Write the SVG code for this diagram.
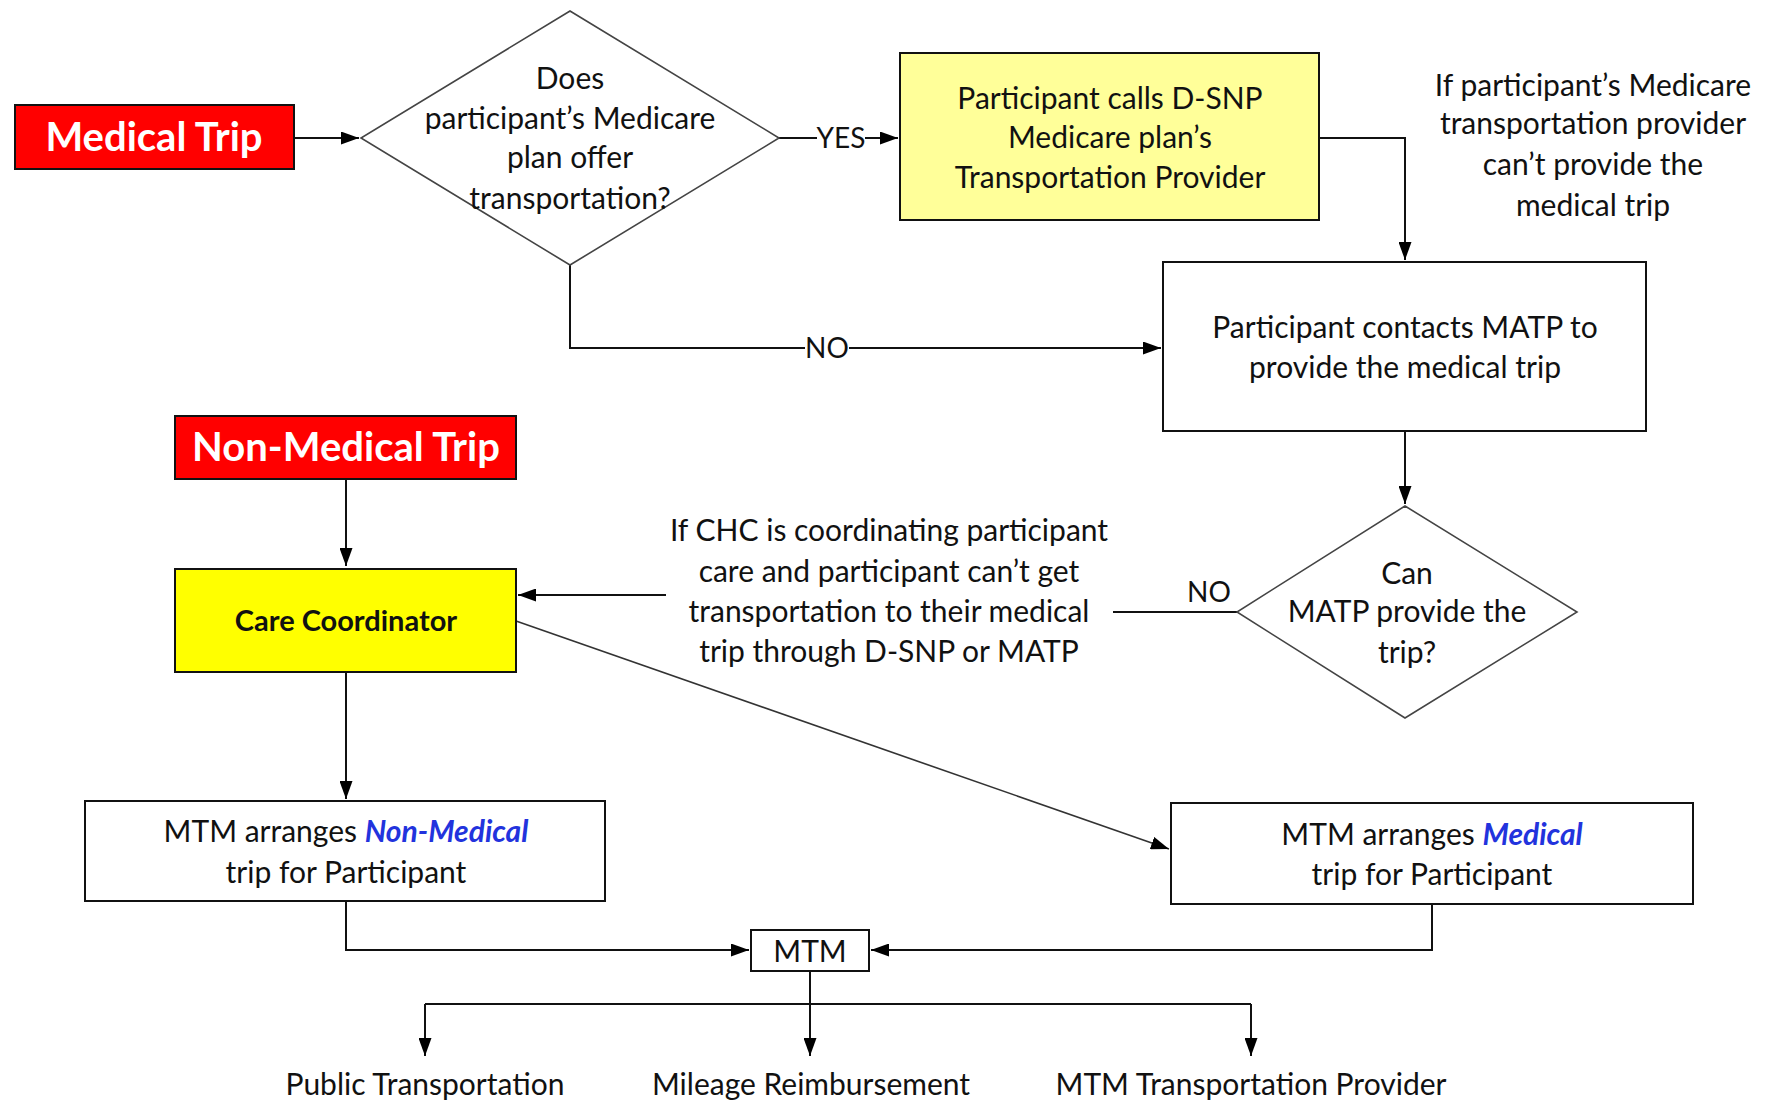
<svg xmlns="http://www.w3.org/2000/svg" width="1771" height="1101" viewBox="0 0 1771 1101">
<style>
.t{font-family:Lato,"Liberation Sans",sans-serif;font-size:30px;fill:#111;text-anchor:middle}
.h{font-family:Lato,"Liberation Sans",sans-serif;font-size:40px;font-weight:bold;fill:#fff;text-anchor:middle}
.b{stroke:#111;stroke-width:2}
.c{fill:none;stroke:#111;stroke-width:2}
.em{fill:#2233dd;font-style:italic;font-weight:bold}
</style>
<defs>
<marker id="ah" viewBox="0 0 18 13" refX="18" refY="6.5" markerWidth="18" markerHeight="13" markerUnits="userSpaceOnUse" orient="auto">
<path d="M0,0 L18,6.5 L0,13 z" fill="#000"/>
</marker>
</defs>
<rect width="1771" height="1101" fill="#fff"/>
<g id="connectors">
<path class="c" d="M294,138 L359,138" marker-end="url(#ah)"/>
<path class="c" d="M779,138 L898,138" marker-end="url(#ah)"/>
<path class="c" d="M1319,138 L1405,138 L1405,260" marker-end="url(#ah)"/>
<path class="c" d="M570,265 L570,348 L1161,348" marker-end="url(#ah)"/>
<path class="c" d="M1405,431 L1405,504" marker-end="url(#ah)"/>
<path class="c" d="M1237,612 L1113,612"/>
<path class="c" d="M666,595 L518,595" marker-end="url(#ah)"/>
<path class="c" d="M346,479 L346,566" marker-end="url(#ah)"/>
<path class="c" d="M346,672 L346,799" marker-end="url(#ah)"/>
<path class="c" d="M516,621 L1169,849" marker-end="url(#ah)" style="stroke:#333;stroke-width:1.6"/>
<path class="c" d="M346,901 L346,950 L749,950" marker-end="url(#ah)"/>
<path class="c" d="M1432,904 L1432,950 L871,950" marker-end="url(#ah)"/>
<path class="c" d="M810,971 L810,1056" marker-end="url(#ah)"/>
<path class="c" d="M425,1004 L1251,1004"/>
<path class="c" d="M425,1004 L425,1056" marker-end="url(#ah)"/>
<path class="c" d="M1251,1004 L1251,1056" marker-end="url(#ah)"/>
<rect x="817" y="122" width="48" height="30" fill="#fff"/>
<text class="t" x="841" y="148" style="font-size:28px">YES</text>
<rect x="805" y="332" width="44" height="30" fill="#fff"/>
<text class="t" x="827" y="358" style="font-size:28px">NO</text>
<text class="t" x="1209" y="602" style="font-size:28px">NO</text>
</g>
<g id="medical-trip">
<rect class="b" x="15" y="105" width="279" height="64" fill="#ff0000"/>
<text class="h" x="154" y="151">Medical Trip</text>
</g>
<g id="decision-medicare">
<polygon points="570,11 779,138 570,265 361,138" fill="#fff" stroke="#444" stroke-width="1.6"/>
<text class="t" x="570" y="89">Does</text>
<text class="t" x="570" y="129">participant’s Medicare</text>
<text class="t" x="570" y="168">plan offer</text>
<text class="t" x="570" y="209">transportation?</text>
</g>
<g id="dsnp-provider">
<rect class="b" x="900" y="53" width="419" height="167" fill="#ffff99"/>
<text class="t" x="1110" y="109">Participant calls D-SNP</text>
<text class="t" x="1110" y="148">Medicare plan’s</text>
<text class="t" x="1110" y="188">Transportation Provider</text>
</g>
<g id="note-medicare">
<text class="t" x="1593" y="96">If participant’s Medicare</text>
<text class="t" x="1593" y="134">transportation provider</text>
<text class="t" x="1593" y="175">can’t provide the</text>
<text class="t" x="1593" y="216">medical trip</text>
</g>
<g id="matp">
<rect class="b" x="1163" y="262" width="483" height="169" fill="#fff"/>
<text class="t" x="1405" y="338">Participant contacts MATP to</text>
<text class="t" x="1405" y="378">provide the medical trip</text>
</g>
<g id="decision-matp">
<polygon points="1405,506 1577,612 1405,718 1237,612" fill="#fff" stroke="#444" stroke-width="1.6"/>
<text class="t" x="1407" y="584">Can</text>
<text class="t" x="1407" y="622">MATP provide the</text>
<text class="t" x="1407" y="663">trip?</text>
</g>
<g id="note-chc">
<text class="t" x="889" y="541">If CHC is coordinating participant</text>
<text class="t" x="889" y="582">care and participant can’t get</text>
<text class="t" x="889" y="622">transportation to their medical</text>
<text class="t" x="889" y="662">trip through D-SNP or MATP</text>
</g>
<g id="non-medical-trip">
<rect class="b" x="175" y="416" width="341" height="63" fill="#ff0000"/>
<text class="h" x="346" y="461">Non-Medical Trip</text>
</g>
<g id="care-coordinator">
<rect class="b" x="175" y="569" width="341" height="103" fill="#ffff00"/>
<text class="t" x="346" y="631" style="font-weight:bold;font-size:29px">Care Coordinator</text>
</g>
<g id="mtm-nonmedical">
<rect class="b" x="85" y="801" width="520" height="100" fill="#fff"/>
<text class="t" x="346" y="842">MTM arranges <tspan class="em">Non-Medical</tspan></text>
<text class="t" x="346" y="883">trip for Participant</text>
</g>
<g id="mtm-medical">
<rect class="b" x="1171" y="803" width="522" height="101" fill="#fff"/>
<text class="t" x="1432" y="845">MTM arranges <tspan class="em">Medical</tspan></text>
<text class="t" x="1432" y="885">trip for Participant</text>
</g>
<g id="mtm">
<rect class="b" x="751" y="930" width="118" height="41" fill="#fff"/>
<text class="t" x="810" y="962">MTM</text>
</g>
<g id="outputs">
<text class="t" x="425" y="1095">Public Transportation</text>
<text class="t" x="811" y="1095">Mileage Reimbursement</text>
<text class="t" x="1251" y="1095">MTM Transportation Provider</text>
</g>
</svg>
